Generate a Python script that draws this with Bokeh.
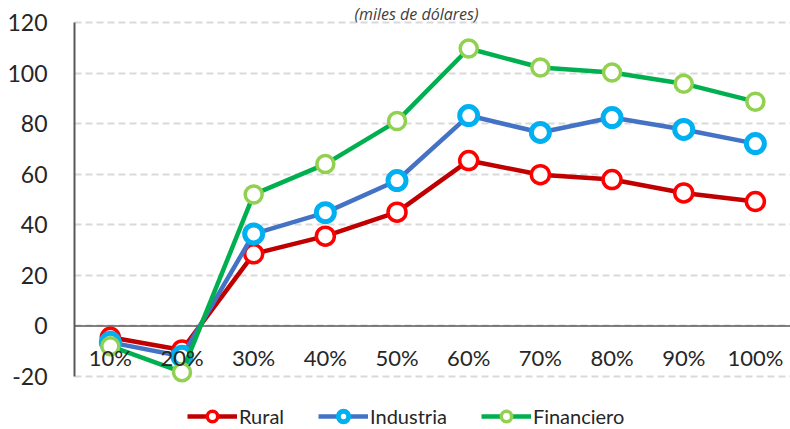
from bokeh.plotting import figure
from bokeh.models import Range1d, FixedTicker, Span, Legend, LegendItem, Label, ColumnDataSource
from bokeh.core.properties import value
from bokeh.embed import file_html
from bokeh.resources import INLINE

# ---- data ----
categories = ["10%", "20%", "30%", "40%", "50%", "60%", "70%", "80%", "90%", "100%"]
rural = [-4.5, -9.5, 28.5, 35.5, 45.0, 65.4, 59.8, 57.9, 52.6, 49.2]
industria = [-6.5, -12.0, 36.4, 44.8, 57.5, 83.2, 76.5, 82.4, 77.7, 72.1]
financiero = [-8.0, -18.3, 52.0, 64.0, 81.0, 109.7, 102.2, 100.2, 95.8, 88.7]
y_ticks = [-20, 0, 20, 40, 60, 80, 100, 120]
title_text = "(miles de dólares)"

FONT = "Lato"
x_idx = list(range(len(categories)))

# frame fills the canvas (except the left axis panel); y axis drawn only from -20 to 120
p = figure(width=790, height=429, output_backend="svg", toolbar_location=None,
           x_range=Range1d(-0.5, 9.49), y_range=Range1d(-40.96, 128.7),
           min_border_left=74, min_border_right=0, min_border_top=0, min_border_bottom=0)
p.outline_line_color = None
p.background_fill_color = "white"
p.border_fill_color = "white"

p.xaxis.visible = False
p.xgrid.visible = False
yax = p.yaxis[0]
yax.ticker = FixedTicker(ticks=y_ticks)
yax.bounds = (y_ticks[0], y_ticks[-1])
yax.major_label_overrides = {-20: "-20"}
yax.major_tick_line_color = None
yax.minor_tick_line_color = None
yax.major_tick_out = 0
yax.major_tick_in = 0
yax.axis_line_color = "#595959"
yax.axis_line_width = 2
yax.major_label_standoff = 27
yax.major_label_text_font = FONT
yax.major_label_text_font_size = "23px"
yax.major_label_text_color = "#262626"

p.ygrid.ticker = FixedTicker(ticks=y_ticks)
p.ygrid.grid_line_color = "#d9d9d9"
p.ygrid.grid_line_width = 2
p.ygrid.grid_line_dash = "7 4"

zero = Span(location=0, dimension="width", line_color="#595959", line_width=1.5, level="underlay")
p.add_layout(zero)

series = [
    ("Rural", rural, "#C00000", "#FF0000", 18, 3.5),
    ("Industria", industria, "#4472C4", "#00B0F0", 18, 5),
    ("Financiero", financiero, "#00B050", "#92D050", 17, 3.5),
]
items = []
for name, vals, lc, mc, ms, mlw in series:
    src = ColumnDataSource(dict(x=x_idx, y=vals))
    l = p.line("x", "y", source=src, line_color=lc, line_width=4.5, line_join="round")
    s = p.scatter("x", "y", source=src, marker="circle", size=ms, fill_color="white",
                  line_color=mc, line_width=mlw)
    items.append(LegendItem(label=name, renderers=[l, s]))

# category labels next to the zero line
lsrc = ColumnDataSource(dict(x=x_idx, y=[0] * len(categories), t=categories))
p.text("x", "y", text="t", source=lsrc, text_align="center", text_baseline="middle",
       y_offset=32, text_font=value(FONT), text_font_size="22px", text_color="#262626")

legend = Legend(items=items, orientation="horizontal", location=(113, 0),
                glyph_width=50, glyph_height=26, label_height=26, label_standoff=2,
                spacing=34, padding=0, margin=0, border_line_color=None,
                background_fill_alpha=0, label_text_font=FONT,
                label_text_font_size="20px", label_text_color="#262626")
p.add_layout(legend, "center")

title = Label(x=342, y=416, x_units="screen", y_units="screen", text=title_text,
              text_align="center", text_baseline="alphabetic", text_font="Open Sans",
              text_font_style="italic", text_font_size="16px", text_color="#404040")
p.add_layout(title)

open("out.html", "w").write(file_html(p, INLINE))
